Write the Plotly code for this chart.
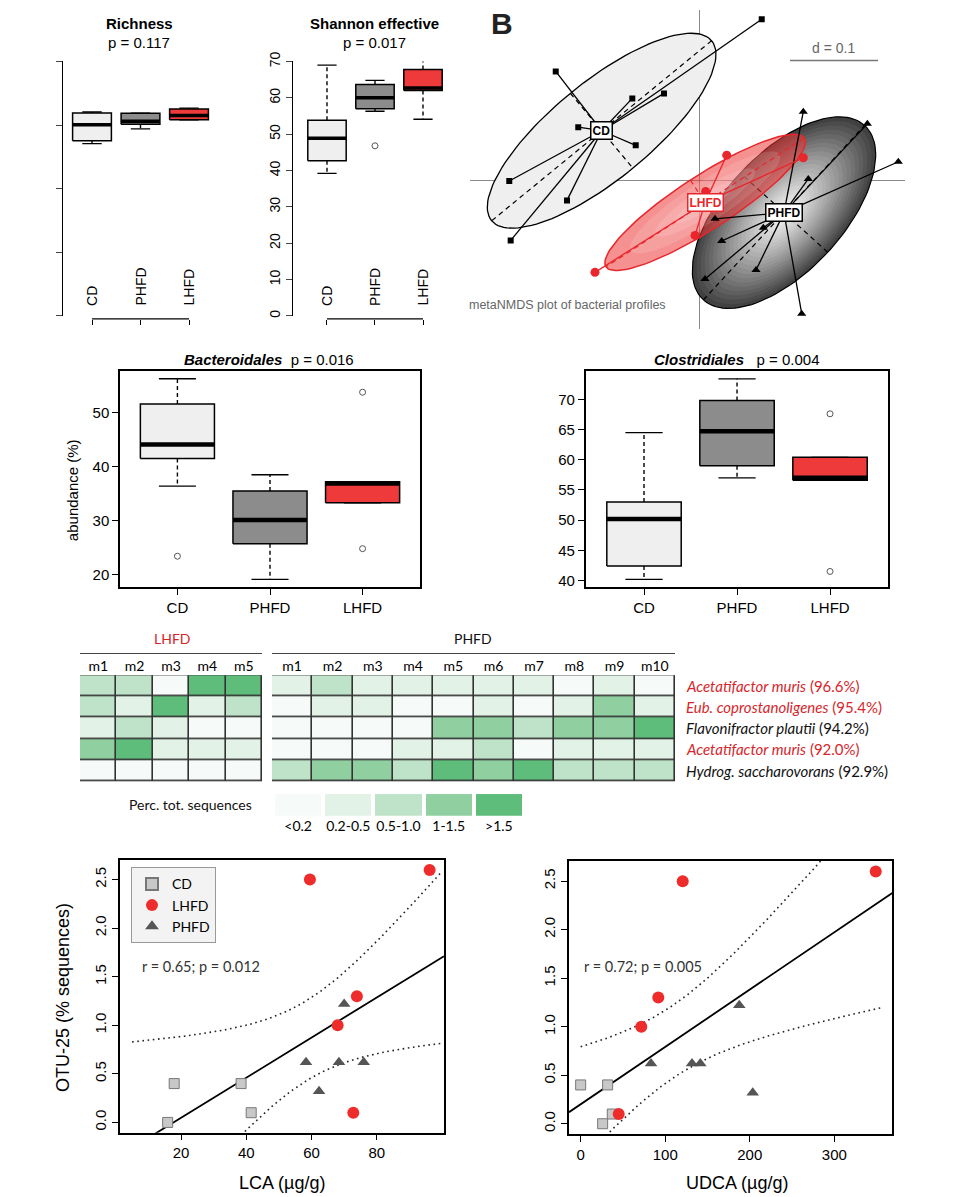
import numpy as np
import plotly.graph_objects as go

W, H = 960, 1197
def fx(p): return p / W
def fy(p): return 1 - p / H

SANS = "Liberation Sans, Arial, sans-serif"
HUM = "Lato, Open Sans, sans-serif"

GROUPS = ["CD", "PHFD", "LHFD"]
BOX_FILL = {"CD": "#efefef", "PHFD": "#8c8c8c", "LHFD": "#ee3a3a"}

# ---------------- Panel A: alpha diversity (box statistics) ----------------
rich_lo  = [270.8, 294.2, 308.2]
rich_q1  = [275.5, 301.4, 308.2]
rich_med = [300.4, 306.1, 314.9]
rich_q3  = [319.1, 318.6, 325.3]
rich_hi  = [320.6, 318.6, 326.8]
rich_out = [[], [], []]

shan_lo  = [39.2, 56.3, 54.1]
shan_q1  = [42.7, 57.0, 62.0]
shan_med = [48.9, 60.0, 62.7]
shan_q3  = [53.8, 63.7, 67.8]
shan_hi  = [69.0, 64.8, 70.8]
shan_out = [[], [46.8], []]

bact_lo  = [36.4, 19.1, 33.3]
bact_q1  = [41.5, 25.7, 33.3]
bact_med = [44.1, 30.1, 36.9]
bact_q3  = [51.6, 35.5, 37.2]
bact_hi  = [56.3, 38.5, 37.2]
bact_out = [[23.4], [], [53.8, 24.8]]

clos_lo  = [40.2, 57.0, 56.6]
clos_q1  = [42.4, 59.0, 56.6]
clos_med = [50.2, 64.7, 57.0]
clos_q3  = [53.0, 69.8, 60.4]
clos_hi  = [64.5, 73.4, 60.4]
clos_out = [[], [], [67.6, 41.5]]

# ---------------- Panel B: NMDS coordinates ----------------
CD_X = [0.0713, -0.1628, -0.0758, -0.0398, -0.1372, -0.0719, -0.2156, -0.1500, -0.2140]
CD_Y = [0.1849, 0.1250, 0.0940, 0.0997, 0.0610, 0.0401, -0.0008, -0.0231, -0.0690]
PHFD_X = [0.1185, 0.1913, 0.2265, 0.1242, 0.0182, 0.0731, 0.0258, 0.0068, 0.0648, 0.1167]
PHFD_Y = [0.0788, 0.0648, 0.0213, 0.0015, -0.0443, -0.0545, -0.0697, -0.1133, -0.1031, -0.1531]
LHFD_X = [0.0315, 0.1185, 0.0076, -0.0045, -0.1182]
LHFD_Y = [0.0288, 0.0258, -0.0128, -0.0633, -0.1057]

# ---------------- Heatmap ----------------
LHFD_MICE = ["m1", "m2", "m3", "m4", "m5"]
PHFD_MICE = ["m1", "m2", "m3", "m4", "m5", "m6", "m7", "m8", "m9", "m10"]
OTU_NAMES = ["Acetatifactor muris", "Eub. coprostanoligenes", "Flavonifractor plautii",
             "Acetatifactor muris", "Hydrog. saccharovorans"]
OTU_IDENT = ["(96.6%)", "(95.4%)", "(94.2%)", "(92.0%)", "(92.9%)"]
OTU_RED = [True, True, False, True, False]
LHFD_LEVELS = [
    [2, 2, 0, 4, 4],
    [2, 1, 4, 1, 2],
    [1, 2, 1, 0, 0],
    [3, 4, 1, 1, 1],
    [0, 0, 0, 0, 0],
]
PHFD_LEVELS = [
    [1, 2, 1, 1, 1, 1, 1, 0, 1, 0],
    [0, 1, 1, 0, 0, 1, 0, 1, 3, 1],
    [0, 0, 0, 0, 3, 3, 2, 3, 3, 4],
    [0, 0, 0, 1, 1, 2, 0, 1, 1, 1],
    [2, 3, 3, 2, 4, 3, 4, 2, 2, 2],
]
LEVEL_LABELS = ["<0.2", "0.2-0.5", "0.5-1.0", "1-1.5", ">1.5"]
LEVEL_COLORS = ["#f6fbfa", "#e2f2e6", "#bfe3c9", "#8fcfa0", "#5ebd7a"]

# ---------------- Panel C: correlations ----------------
OTU_CD   = [0.0, 0.4, 0.4, 0.1]
OTU_LHFD = [2.50, 2.60, 1.30, 1.00, 0.10]
OTU_PHFD = [1.22, 0.62, 0.62, 0.62, 0.32]
LCA_CD   = [15.9, 17.9, 38.4, 41.5]
LCA_LHFD = [59.5, 96.2, 73.9, 68.0, 72.8]
LCA_PHFD = [70.0, 58.3, 68.4, 76.0, 62.3]
UDCA_CD   = [26.0, 0.0, 31.9, 37.4]
UDCA_LHFD = [120.7, 349.0, 91.8, 71.7, 45.0]
UDCA_PHFD = [187.6, 83.2, 131.7, 141.5, 203.5]

fig = go.Figure()
layout = dict(width=W, height=H, margin=dict(l=0, r=0, t=0, b=0),
              paper_bgcolor="white", plot_bgcolor="white", showlegend=True,
              font=dict(family=SANS, color="black"))
annotations = []
shapes = []

WHISK_DASH = "4px,3px"
AXIS_DASH = "5px,4px"
DOT = "1.6px,3.6px"

def ann(text, x, y, xref="paper", yref="paper", xanchor="center", yanchor="middle", **kw):
    d = dict(text=text, x=x, y=y, xref=xref, yref=yref, xanchor=xanchor, yanchor=yanchor, showarrow=False)
    d.update(kw)
    annotations.append(d)

def refs(n):
    return ("x" if n == 1 else f"x{n}", "y" if n == 1 else f"y{n}")

def ax_names(n):
    return ("xaxis" if n == 1 else f"xaxis{n}", "yaxis" if n == 1 else f"yaxis{n}")

def add_boxes(n, lo, q1, med, q3, hi, outs, width=0.8, medw=4.0):
    xr, yr = refs(n)
    h = width / 2
    for i, g in enumerate(GROUPS):
        c = i + 1
        common = dict(xaxis=xr, yaxis=yr, showlegend=False, hoverinfo="skip")
        fig.add_trace(go.Scatter(x=[c, c, None, c, c], y=[q3[i], hi[i], None, q1[i], lo[i]],
                                 mode="lines", line=dict(color="black", width=1.4, dash=WHISK_DASH), **common))
        fig.add_trace(go.Scatter(x=[c - h / 2, c + h / 2, None, c - h / 2, c + h / 2],
                                 y=[hi[i], hi[i], None, lo[i], lo[i]],
                                 mode="lines", line=dict(color="black", width=1.3), **common))
        fig.add_trace(go.Scatter(x=[c - h, c + h, c + h, c - h, c - h],
                                 y=[q1[i], q1[i], q3[i], q3[i], q1[i]],
                                 mode="lines", fill="toself", fillcolor=BOX_FILL[g],
                                 line=dict(color="black", width=1.5), **common))
        fig.add_trace(go.Scatter(x=[c - h, c + h], y=[med[i], med[i]], mode="lines",
                                 line=dict(color="black", width=medw), **common))
        if outs[i]:
            fig.add_trace(go.Scatter(x=[c] * len(outs[i]), y=outs[i], mode="markers",
                                     marker=dict(symbol="circle-open", size=6, color="#555",
                                                 line=dict(width=1)), **common))

# ---- Richness (1) ----
add_boxes(1, rich_lo, rich_q1, rich_med, rich_q3, rich_hi, rich_out, medw=3.5)
xa, ya = ax_names(1)
layout[xa] = dict(domain=[fx(63), fx(215)], range=[0.402, 3.536], anchor="free", position=fy(312),
                  showline=False, ticks="outside", ticklen=5, tickwidth=1.3, tickcolor="black",
                  tickvals=[1, 2, 3], showticklabels=False, showgrid=False, zeroline=False)
layout[ya] = dict(domain=[fy(309), fy(52)], range=[0, 400], anchor="x", showline=True,
                  linecolor="black", linewidth=1.3, ticks="outside", ticklen=6, tickwidth=1.3,
                  tickvals=[0, 100, 200, 300, 400], showticklabels=False, showgrid=False, zeroline=False)
shapes.append(dict(type="line", xref="x", yref="paper", x0=1, x1=3, y0=fy(312), y1=fy(312),
                   line=dict(color="black", width=1.3)))
# ---- Shannon (2) ----
add_boxes(2, shan_lo, shan_q1, shan_med, shan_q3, shan_hi, shan_out, medw=3.5)
xa, ya = ax_names(2)
layout[xa] = dict(domain=[fx(293), fx(450)], range=[0.292, 3.5625], anchor="free", position=fy(312),
                  showline=False, ticks="outside", ticklen=5, tickwidth=1.3, tickcolor="black",
                  tickvals=[1, 2, 3], showticklabels=False, showgrid=False, zeroline=False)
layout[ya] = dict(domain=[fy(309), fy(52)], range=[0, 70], anchor="x2", showline=True,
                  linecolor="black", linewidth=1.3, ticks="outside", ticklen=6, tickwidth=1.3,
                  tickvals=[0, 10, 20, 30, 40, 50, 60, 70], tickangle=-90,
                  tickfont=dict(size=14), showgrid=False, zeroline=False)
shapes.append(dict(type="line", xref="x2", yref="paper", x0=1, x1=3, y0=fy(312), y1=fy(312),
                   line=dict(color="black", width=1.3)))
for xr in ["x", "x2"]:
    for i, g in enumerate(GROUPS):
        ann(g, i + 1, fy(301), xref=xr, yanchor="bottom", textangle=-90, font=dict(size=14))
ann("<b>Richness</b>", fx(139), fy(14), font=dict(size=15))
ann("p = 0.117", fx(139), fy(33), font=dict(size=15))
ann("<b>Shannon effective</b>", fx(374), fy(14), font=dict(size=15))
ann("p = 0.017", fx(374), fy(33), font=dict(size=15))

# ---- NMDS (3) ----
def ell(xs, ys, scale=1.5, n=120):
    x = np.asarray(xs); y = np.asarray(ys)
    mx, my = x.mean(), y.mean()
    cov = np.cov(np.vstack([x, y]), bias=True)
    vals, vecs = np.linalg.eigh(cov)
    a = scale * np.sqrt(vals[1]); b = scale * np.sqrt(vals[0])
    v1 = vecs[:, 1]; v0 = vecs[:, 0]
    t = np.linspace(0, 2 * np.pi, n)
    def pts(k):
        ex = mx + k * (a * np.cos(t) * v1[0] + b * np.sin(t) * v0[0])
        ey = my + k * (a * np.cos(t) * v1[1] + b * np.sin(t) * v0[1])
        return ex, ey
    axes_x = [mx - a * v1[0], mx + a * v1[0], None, mx - b * v0[0], mx + b * v0[0]]
    axes_y = [my - a * v1[1], my + a * v1[1], None, my - b * v0[1], my + b * v0[1]]
    return mx, my, pts, axes_x, axes_y

n3 = dict(xaxis="x3", yaxis="y3", showlegend=False, hoverinfo="skip")
cd = ell(CD_X, CD_Y)
ph = ell(PHFD_X, PHFD_Y)
lh = ell(LHFD_X, LHFD_Y)

ex, ey = cd[2](1.0)
fig.add_trace(go.Scatter(x=ex, y=ey, mode="lines", fill="toself", fillcolor="#efefef",
                         line=dict(color="black", width=1.3), **n3))
fig.add_trace(go.Scatter(x=cd[3], y=cd[4], mode="lines", line=dict(color="black", width=1.2, dash=AXIS_DASH), **n3))

steps = np.linspace(1.0, 0.06, 22)
for j, k in enumerate(steps):
    g = int(round(245 - 180 * k ** 1.25))
    ex, ey = ph[2](k)
    fig.add_trace(go.Scatter(x=ex, y=ey, mode="lines", fill="toself", fillcolor=f"rgb({g},{g},{g})",
                             line=dict(color="black" if j == 0 else f"rgb({g},{g},{g})", width=1.2 if j == 0 else 0),
                             **n3))
fig.add_trace(go.Scatter(x=ph[3], y=ph[4], mode="lines", line=dict(color="black", width=1.2, dash=AXIS_DASH), **n3))

ex, ey = lh[2](1.0)
fig.add_trace(go.Scatter(x=ex, y=ey, mode="lines", fill="toself", fillcolor="rgba(236,55,55,0.55)",
                         line=dict(color="#e8262b", width=1.5), **n3))
for k in [0.75, 0.5, 0.3]:
    ex, ey = lh[2](k)
    fig.add_trace(go.Scatter(x=ex, y=ey, mode="lines", fill="toself", fillcolor="rgba(255,255,255,0.13)",
                             line=dict(width=0, color="rgba(0,0,0,0)"), **n3))
fig.add_trace(go.Scatter(x=lh[3], y=lh[4], mode="lines", line=dict(color="#e8262b", width=1.2, dash=AXIS_DASH), **n3))

def spider(xs, ys, mx, my, color, sym, size):
    sx, sy = [], []
    for a, b in zip(xs, ys):
        sx += [mx, a, None]; sy += [my, b, None]
    fig.add_trace(go.Scatter(x=sx, y=sy, mode="lines", line=dict(color=color, width=1.3), **n3))
    fig.add_trace(go.Scatter(x=xs, y=ys, mode="markers", marker=dict(symbol=sym, size=size, color=color), **n3))

spider(CD_X, CD_Y, cd[0], cd[1], "black", "square", 6)
spider(PHFD_X, PHFD_Y, ph[0], ph[1], "black", "triangle-up", 8)
spider(LHFD_X, LHFD_Y, lh[0], lh[1], "#e8262b", "circle", 9)

for (m, lab, col) in [(cd, "CD", "black"), (lh, "LHFD", "#e8262b"), (ph, "PHFD", "black")]:
    ann(f"<b>{lab}</b>", m[0], m[1], xref="x3", yref="y3", font=dict(size=12, color=col),
        bgcolor="white", bordercolor=col, borderwidth=1.5, borderpad=1)
shapes.append(dict(type="line", xref="x3", yref="y3", x0=0.1034, x1=0.2034, y0=0.1375, y1=0.1375,
                   line=dict(color="#777", width=1.5)))
ann("d = 0.1", 0.1534, 0.1375, xref="x3", yref="y3", yanchor="bottom", yshift=2,
    font=dict(size=14, color="#666"))
ann("metaNMDS plot of bacterial profiles", fx(467), fy(298), xanchor="left",
    font=dict(size=12.5, color="#666"))
ann("<b>B</b>", fx(502), fy(14), font=dict(size=30, color="#222"))
xa, ya = ax_names(3)
layout[xa] = dict(domain=[fx(470), fx(905)], range=[(470 - 699) / 880, (905 - 699) / 880], anchor="y3",
                  showgrid=False, showticklabels=False, ticks="", showline=False, zeroline=True,
                  zerolinecolor="#8a8a8a", zerolinewidth=1.2, layer="above traces")
layout[ya] = dict(domain=[fy(322), fy(0)], range=[(172 - 322) / 880, 172 / 880], anchor="x3",
                  showgrid=False, showticklabels=False, ticks="", showline=False, zeroline=True,
                  zerolinecolor="#8a8a8a", zerolinewidth=1.2, layer="above traces")

# ---- Bacteroidales (4) & Clostridiales (5) ----
add_boxes(4, bact_lo, bact_q1, bact_med, bact_q3, bact_hi, bact_out, medw=4.5)
add_boxes(5, clos_lo, clos_q1, clos_med, clos_q3, clos_hi, clos_out, medw=4.5)
frame = dict(showline=True, mirror=True, linecolor="black", linewidth=1.5, ticks="outside", ticklen=6,
             tickwidth=1.3, tickcolor="black", showgrid=False, zeroline=False, tickfont=dict(size=15))
xa, ya = ax_names(4)
layout[xa] = dict(frame, domain=[fx(120), fx(420)], range=[0.38, 3.62], anchor="y4",
                  tickvals=[1, 2, 3], ticktext=GROUPS)
layout[ya] = dict(frame, domain=[fy(583.3), fy(364.3)], range=[17.61, 57.8], anchor="x4",
                  tickvals=[20, 30, 40, 50])
xa, ya = ax_names(5)
layout[xa] = dict(frame, domain=[fx(585.7), fx(887.7)], range=[0.373, 3.62], anchor="y5",
                  tickvals=[1, 2, 3], ticktext=GROUPS)
layout[ya] = dict(frame, domain=[fy(583.3), fy(364.3)], range=[38.85, 74.75], anchor="x5",
                  tickvals=[40, 45, 50, 55, 60, 65, 70])
ann("<b><i>Bacteroidales</i></b>  p = 0.016", fx(269), fy(353), font=dict(size=15))
ann("<b><i>Clostridiales</i></b>   p = 0.004", fx(737), fy(353), font=dict(size=15))
ann("abundance (%)", fx(72), fy(485), textangle=-90, font=dict(size=15))

# ---- Heatmap (6, 7) and legend (8) ----
cs = []
for i, c in enumerate(LEVEL_COLORS):
    lo_, hi_ = max(0, (i - 0.5) / 4), min(1, (i + 0.5) / 4)
    cs += [[lo_, c], [hi_, c]]

def add_heat(n, z, labels, domx):
    xr, yr = refs(n)
    fig.add_trace(go.Heatmap(z=z, x=list(range(len(labels))), y=list(range(len(z))), colorscale=cs,
                             zmin=0, zmax=4, showscale=False, xgap=1.6, ygap=1.6, xaxis=xr, yaxis=yr,
                             hoverinfo="skip"))
    shapes.append(dict(type="rect", xref=xr, yref=yr, x0=-0.5, x1=len(labels) - 0.5, y0=-0.5, y1=len(z) - 0.5,
                       fillcolor="#333", line=dict(color="#333", width=1.5), layer="below"))
    xa, ya = ax_names(n)
    layout[xa] = dict(domain=domx, range=[-0.5, len(labels) - 0.5], anchor=yr, side="top",
                      tickvals=list(range(len(labels))), ticktext=labels, ticks="", showline=False,
                      showgrid=False, zeroline=False, tickfont=dict(family=HUM, size=14))
    layout[ya] = dict(domain=[fy(779), fy(672)], range=[len(z) - 0.5, -0.5], anchor=xr,
                      showticklabels=False, ticks="", showline=False, showgrid=False, zeroline=False)

add_heat(6, LHFD_LEVELS, LHFD_MICE, [fx(80), fx(262)])
add_heat(7, PHFD_LEVELS, PHFD_MICE, [fx(272), fx(675)])
for i, (nm, idt, red) in enumerate(zip(OTU_NAMES, OTU_IDENT, OTU_RED)):
    ann(f"<i>{nm}</i> {idt}", fx(684), i, yref="y7", xanchor="left",
        font=dict(family=HUM, size=15, color="#d7262b" if red else "#111"))
shapes += [
    dict(type="line", xref="paper", yref="paper", x0=fx(80), x1=fx(262), y0=fy(650), y1=fy(650),
         line=dict(color="#444", width=1.2)),
    dict(type="line", xref="paper", yref="paper", x0=fx(272), x1=fx(675), y0=fy(650), y1=fy(650),
         line=dict(color="#444", width=1.2)),
]
ann("LHFD", fx(172), fy(635), font=dict(family=HUM, size=14, color="#d7262b"))
ann("PHFD", fx(473), fy(635), font=dict(family=HUM, size=14, color="#111"))
ann("Perc. tot. sequences", fx(254), fy(803), xanchor="right", font=dict(family=HUM, size=14, color="#111"))
fig.add_trace(go.Heatmap(z=[list(range(5))], x=list(range(5)), y=[0], colorscale=cs, zmin=0, zmax=4,
                         showscale=False, xgap=4, xaxis="x8", yaxis="y8", hoverinfo="skip"))
layout["xaxis8"] = dict(domain=[fx(273), fx(524)], range=[-0.5, 4.5], anchor="y8", tickvals=list(range(5)),
                        ticktext=LEVEL_LABELS, ticks="", showline=False, showgrid=False, zeroline=False,
                        tickfont=dict(family=HUM, size=14))
layout["yaxis8"] = dict(domain=[fy(814), fy(792)], range=[-0.5, 0.5], anchor="x8", showticklabels=False,
                        ticks="", showline=False, showgrid=False, zeroline=False)

# ---- Scatter plots (9, 10) ----
T_975_DF12 = 2.1788

def reg_panel(n, xs_by_group, xrng, band_rng, rtext, rx, legend):
    xr, yr = refs(n)
    allx = np.concatenate([np.asarray(v, float) for v in xs_by_group])
    ally = np.concatenate([np.asarray(v, float) for v in [OTU_CD, OTU_LHFD, OTU_PHFD]])
    b, a = np.polyfit(allx, ally, 1)
    nn = len(allx)
    resid = ally - (a + b * allx)
    s = np.sqrt(np.sum(resid ** 2) / (nn - 2))
    sxx = np.sum((allx - allx.mean()) ** 2)
    grid = np.linspace(band_rng[0], band_rng[1], 200)
    fit = a + b * grid
    se = s * np.sqrt(1 / nn + (grid - allx.mean()) ** 2 / sxx)
    common = dict(xaxis=xr, yaxis=yr, hoverinfo="skip")
    for sign in (1, -1):
        fig.add_trace(go.Scatter(x=grid, y=fit + sign * T_975_DF12 * se, mode="lines", showlegend=False,
                                 line=dict(color="#222", width=1.6, dash=DOT), **common))
    fig.add_trace(go.Scatter(x=list(xrng), y=[a + b * xrng[0], a + b * xrng[1]], mode="lines", showlegend=False,
                             line=dict(color="black", width=1.8), **common))
    styles = [
        ("CD", xs_by_group[0], OTU_CD, dict(symbol="square", size=10, color="#c8c8c8", line=dict(color="#777", width=1))),
        ("LHFD", xs_by_group[1], OTU_LHFD, dict(symbol="circle", size=12, color="#ee2c2c", line=dict(width=0))),
        ("PHFD", xs_by_group[2], OTU_PHFD, dict(symbol="triangle-up", size=11, color="#555", line=dict(width=0))),
    ]
    for name, xv, yv, mk in styles:
        fig.add_trace(go.Scatter(x=xv, y=yv, mode="markers", name=name, marker=mk, showlegend=legend, **common))
    ann(rtext, fx(rx), fy(966), xanchor="left", font=dict(family=HUM, size=14.5, color="#333"))

reg_panel(9, [LCA_CD, LCA_LHFD, LCA_PHFD], (1.29, 100.6), (5, 100), "r = 0.65; p = 0.012", 140, True)
reg_panel(10, [UDCA_CD, UDCA_LHFD, UDCA_PHFD], (-13.8, 368.6), (0, 355), "r = 0.72; p = 0.005", 582, False)
sc = dict(frame, tickfont=dict(size=15))
layout["xaxis9"] = dict(sc, domain=[fx(120), fx(444)], range=[1.29, 100.6], anchor="y9", tickvals=[20, 40, 60, 80])
layout["yaxis9"] = dict(sc, domain=[fy(1134), fy(858.3)], range=[-0.105, 2.705], anchor="x9",
                        tickvals=[0, 0.5, 1, 1.5, 2, 2.5], ticktext=["0.0", "0.5", "1.0", "1.5", "2.0", "2.5"],
                        tickangle=-90)
layout["xaxis10"] = dict(sc, domain=[fx(569), fx(892.3)], range=[-13.8, 368.6], anchor="y10",
                         tickvals=[0, 100, 200, 300])
layout["yaxis10"] = dict(sc, domain=[fy(1135.7), fy(859.3)], range=[-0.109, 2.711], anchor="x10",
                         tickvals=[0, 0.5, 1, 1.5, 2, 2.5], ticktext=["0.0", "0.5", "1.0", "1.5", "2.0", "2.5"],
                         tickangle=-90)
ann("LCA (µg/g)", fx(282), fy(1185), font=dict(size=18))
ann("UDCA (µg/g)", fx(737), fy(1185), font=dict(size=18))
ann("OTU-25 (% sequences)", fx(63), fy(998), textangle=-90, font=dict(size=18))
layout["legend"] = dict(x=fx(131), y=fy(866), xanchor="left", yanchor="top", bgcolor="#f3f3f3",
                        bordercolor="#999", borderwidth=1, font=dict(family=HUM, size=14),
                        itemsizing="constant", tracegroupgap=0)

layout["annotations"] = annotations
layout["shapes"] = shapes
fig.update_layout(**layout)
fig.write_html("out.html", config={"displayModeBar": False},
               post_script="document.body.style.margin='0px';")
